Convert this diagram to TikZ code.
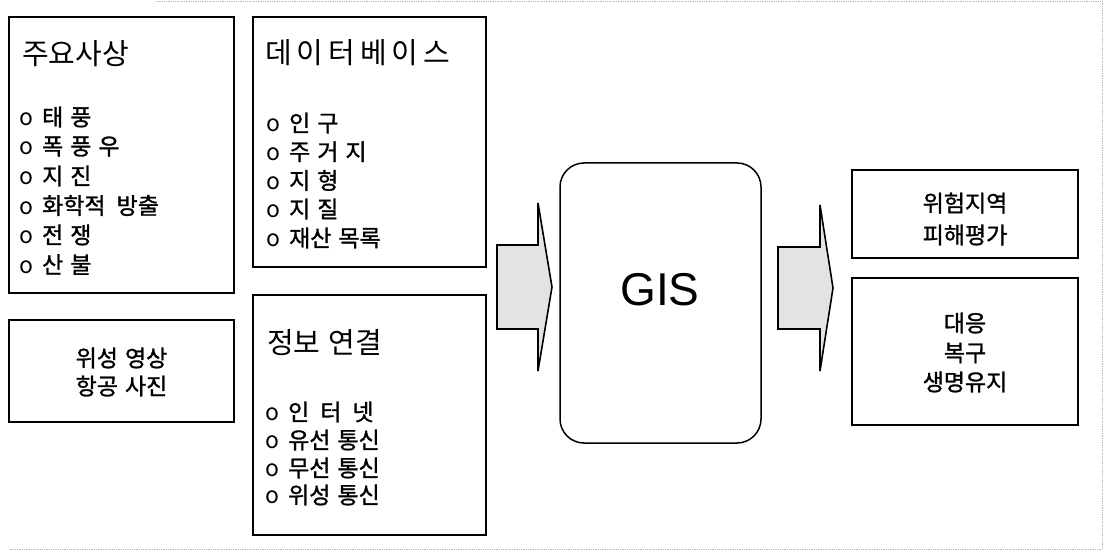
\documentclass[tikz,border=0pt]{standalone}
\usepackage{fontspec}
\newfontfamily\kr{Noto Sans CJK KR}
\newfontfamily\krb[FakeBold=1.2]{Noto Sans CJK KR}
\newfontfamily\gisfont{Liberation Sans}
\newcommand\ttlfont{\kr\fontsize{29}{31}\selectfont\spaceskip 8pt\relax}
\newcommand\itmfont{\krb\fontsize{23}{25}\selectfont\spaceskip 7pt\relax}
\newcommand\ls{\hspace{5pt}}
\newcommand\ws{\hspace{11pt}}
\newcommand\bul{{\kr o}\hspace{9pt}}
\tikzset{
  box/.style={draw, line width=1.5pt, inner sep=0pt},
  ttl/.style={anchor=west, inner sep=0pt, font=\ttlfont},
  itm/.style={anchor=west, inner sep=0pt, font=\itmfont},
  ctr/.style={anchor=center, inner sep=0pt, font=\itmfont},
  bigarrow/.style={draw, line width=1.6pt, fill=gray!22, line join=miter},
  frame/.style={draw=gray!60, line width=0.8pt, densely dotted}
}
\begin{document}
\begin{tikzpicture}[x=1pt,y=-1pt]
\useasboundingbox (0,0) rectangle (1106,553);
% faint outer frame
\coordinate (f1) at (155,1);
\coordinate (f2) at (1102,1);
\coordinate (f3) at (1102,549);
\coordinate (f4) at (10,549);
\draw[frame] (f1) -- (f2) -- (f3) -- (f4);

% boxes
\node[box, minimum width=225pt, minimum height=276pt] (b1) at (121.5,155) {};
\node[box, minimum width=233pt, minimum height=250pt] (b2) at (369.5,142) {};
\node[box, minimum width=225pt, minimum height=102pt] (b3) at (121.5,371) {};
\node[box, minimum width=233pt, minimum height=240pt] (b4) at (369.5,415) {};
\node[box, rounded corners=24pt, minimum width=201pt, minimum height=280pt] (gis) at (660.5,303) {};
\node[box, minimum width=226pt, minimum height=88pt] (r1) at (965,214) {};
\node[box, minimum width=226pt, minimum height=147pt] (r2) at (965,351.5) {};

% box 1
\node[ttl] (t1) at (22,54) {주요사상};
\node[itm] (i11) at (19,117) {\bul 태 풍};
\node[itm] (i12) at (19,146.5) {\bul 폭 풍 우};
\node[itm] (i13) at (19,176) {\bul 지 진};
\node[itm] (i14) at (19,205.5) {\bul 화학적\ws 방출};
\node[itm] (i15) at (19,235) {\bul 전 쟁};
\node[itm] (i16) at (19,264.5) {\bul 산 불};

% box 2
\node[ttl] (t2) at (265,53) {데\ls 이\ls 터\ls 베\ls 이\ls 스};
\node[itm] (i21) at (266,123) {\bul 인 구};
\node[itm] (i22) at (266,151.7) {\bul 주 거 지};
\node[itm] (i23) at (266,180.4) {\bul 지 형};
\node[itm] (i24) at (266,209) {\bul 지 질};
\node[itm] (i25) at (266,238) {\bul 재산 목록};

% box 3
\node[ctr] (c31) at (121.5,358) {위성 영상};
\node[ctr] (c32) at (121.5,386) {항공 사진};

% box 4
\node[ttl] (t4) at (267,343) {정보 연결};
\node[itm] (i41) at (265,412) {\bul 인\ws 터\ws 넷};
\node[itm] (i42) at (265,440) {\bul 유선 통신};
\node[itm] (i43) at (265,468) {\bul 무선 통신};
\node[itm] (i44) at (265,495) {\bul 위성 통신};

% GIS
\node[inner sep=0pt, font=\gisfont\fontsize{46}{48}\selectfont] (g) at (660,290) {GIS};

% right boxes
\node[ctr] (c11) at (965,203) {위험지역};
\node[ctr] (c12) at (965,235) {피해평가};
\node[ctr] (c21) at (965,323) {대응};
\node[ctr] (c22) at (965,353) {복구};
\node[ctr] (c23) at (965,382) {생명유지};

% block arrows
\draw[bigarrow] (497,245) -- (538,245) -- (538,203) -- (552,287) -- (538,371) -- (538,329) -- (497,329) -- cycle;
\draw[bigarrow] (778,247) -- (820,247) -- (820,205) -- (833,288) -- (820,371) -- (820,329) -- (778,329) -- cycle;
\end{tikzpicture}
\end{document}
